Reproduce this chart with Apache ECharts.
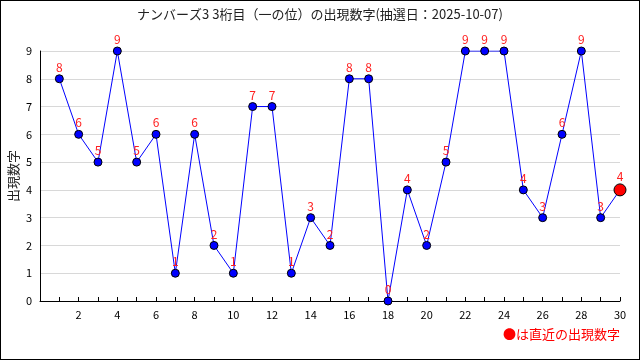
<!DOCTYPE html>
<html><head><meta charset="utf-8">
<script src="https://cdn.jsdelivr.net/npm/echarts@6/dist/echarts.min.js"></script>
<style>html,body{margin:0;padding:0;background:#fff}#c{width:638px;height:358px;border:1px solid #000}</style>
</head><body><div id="c"></div>
<script>
const titleText = 'ナンバーズ3 3桁目（一の位）の出現数字(抽選日：2025-10-07)';
const yAxisName = '出現数字';
const legendText = '●は直近の出現数字';
const draws = [1,2,3,4,5,6,7,8,9,10,11,12,13,14,15,16,17,18,19,20,21,22,23,24,25,26,27,28,29,30];
const digits = [8,6,5,9,5,6,1,6,2,1,7,7,1,3,2,8,8,0,4,2,5,9,9,9,4,3,6,9,3,4];

const font = '"Noto Sans CJK JP", "DejaVu Sans", sans-serif';
const chart = echarts.init(document.getElementById('c'));
const data = draws.map((d, i) => {
  const last = i === draws.length - 1;
  return {
    value: [d, digits[i]],
    symbolSize: last ? 12 : 8,
    itemStyle: last ? {color: '#ff0000', borderColor: '#000', borderWidth: 1} : undefined
  };
});
chart.setOption({
  animation: false,
  title: {text: titleText, left: 'center', top: 2,
    textStyle: {fontFamily: font, fontSize: 13, fontWeight: 'normal', color: '#222'}},
  graphic: [
    {type: 'text', right: 19, top: 327, style: {text: legendText, fill: '#ff0000', font: '13px ' + font}},
    {type: 'text', x: 12, y: 175, rotation: Math.PI / 2,
      style: {text: yAxisName, fill: '#222', font: '13px ' + font, align: 'center', verticalAlign: 'middle'}}
  ],
  grid: {left: 39, right: 19, top: 50, bottom: 58, containLabel: false, outerBoundsMode: 'none'},
  xAxis: {type: 'value', min: 0, max: 30, interval: 1,
    axisLine: {lineStyle: {color: '#000'}},
    axisTick: {inside: true, length: 4, lineStyle: {color: '#000'}},
    splitLine: {show: false},
    axisLabel: {color: '#000', fontSize: 11, fontFamily: font, margin: 8, showMinLabel: true,
      formatter: v => (v > 0 && v % 2 === 0) ? String(v) : ''}},
  yAxis: {type: 'value', min: 0, max: 9, interval: 1,
    axisLine: {show: true, lineStyle: {color: '#000'}},
    axisTick: {show: false},
    splitLine: {lineStyle: {color: '#d8d8d8'}},
    axisLabel: {color: '#000', fontSize: 11, fontFamily: font, margin: 8}},
  series: [{
    type: 'line', data: data, symbol: 'circle', symbolSize: 8,
    lineStyle: {color: '#0000ff', width: 1},
    itemStyle: {color: '#0000ff', borderColor: '#000', borderWidth: 1},
    label: {show: true, position: 'top', distance: 1, color: '#ff2020', fontSize: 12, fontFamily: font,
      formatter: p => String(p.value[1])}
  }]
});
</script></body></html>
